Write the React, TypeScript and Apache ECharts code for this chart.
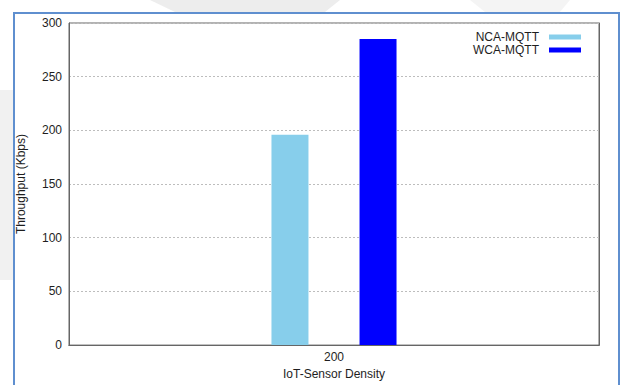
import React, { useEffect, useRef } from "react";
import * as echarts from "echarts";

// Network throughput at one IoT-sensor density
const categories = ["200"];
const seriesNames = ["NCA-MQTT", "WCA-MQTT"];
const ncaValues = [196];
const wcaValues = [285];
const yTicks = { min: 0, max: 300, interval: 50 };

const FONT = "'Liberation Sans', Arial, Helvetica, sans-serif";
const TEXT = "#1e1e1e";
const FRAME = "#666666";

export default function App() {
  const ref = useRef<HTMLDivElement>(null);

  useEffect(() => {
    if (!ref.current) return;
    const chart = echarts.init(ref.current, undefined, {
      renderer: "svg",
      width: 621,
      height: 385,
    });

    const tickStyle = { inside: true, length: 5, lineStyle: { color: "#444", width: 1 } };
    const axisLine = { show: true, lineStyle: { color: FRAME, width: 1 } };

    chart.setOption({
      animation: false,
      backgroundColor: "#ffffff",
      textStyle: { fontFamily: FONT },
      grid: {
        left: 69,
        top: 23,
        width: 530,
        height: 330,
        show: true,
        borderColor: FRAME,
        borderWidth: 1,
        backgroundColor: "#ffffff",
      },
      legend: {
        data: seriesNames,
        orient: "vertical",
        right: 35,
        top: 26,
        align: "right",
        icon: "rect",
        itemWidth: 32,
        itemHeight: 5,
        itemGap: 1,
        textStyle: {
          fontFamily: FONT,
          fontSize: 12,
          color: TEXT,
          padding: [0, 5, 0, 0],
          lineHeight: 12,
          height: 12,
        },
      },
      xAxis: [
        {
          type: "category",
          data: categories,
          position: "bottom",
          axisLine,
          axisTick: { ...tickStyle, alignWithLabel: true },
          axisLabel: { color: TEXT, fontSize: 12, fontFamily: FONT, margin: 6 },
          name: "IoT-Sensor Density",
          nameLocation: "middle",
          nameGap: 20,
          nameTextStyle: { color: TEXT, fontSize: 12, fontFamily: FONT },
        },
        {
          type: "category",
          data: categories,
          position: "top",
          axisLine,
          axisTick: { ...tickStyle, alignWithLabel: true },
          axisLabel: { show: false },
        },
      ],
      yAxis: [
        {
          type: "value",
          ...yTicks,
          position: "left",
          axisLine,
          axisTick: tickStyle,
          axisLabel: { color: TEXT, fontSize: 12, fontFamily: FONT, margin: 7 },
          splitLine: { show: true, lineStyle: { color: "#bdbdbd", type: [2, 2], width: 1 } },
          name: "Throughput (Kbps)",
          nameLocation: "middle",
          nameGap: 42,
          nameTextStyle: { color: TEXT, fontSize: 12, fontFamily: FONT },
        },
        {
          type: "value",
          ...yTicks,
          position: "right",
          axisLine,
          axisTick: tickStyle,
          axisLabel: { show: false },
          splitLine: { show: false },
        },
      ],
      series: [
        {
          name: seriesNames[0],
          type: "bar",
          data: ncaValues,
          barWidth: 37,
          barGap: "138%",
          itemStyle: { color: "#87ceeb" },
        },
        {
          name: seriesNames[1],
          type: "bar",
          data: wcaValues,
          barWidth: 37,
          barGap: "138%",
          itemStyle: { color: "#0000ff" },
        },
      ],
      graphic: [
        // faint page shading outside the figure frame
        {
          type: "polygon",
          z: -10,
          silent: true,
          shape: { points: [[150, 0], [340, 0], [325, 12], [175, 12]] },
          style: { fill: "#e9e9e9", opacity: 0.8 },
        },
        {
          type: "polygon",
          z: -10,
          silent: true,
          shape: { points: [[470, 0], [570, 0], [560, 12], [485, 12]] },
          style: { fill: "#f1f1f1", opacity: 0.8 },
        },
        {
          type: "rect",
          z: -10,
          silent: true,
          shape: { x: 0, y: 90, width: 13, height: 190 },
          style: { fill: "#ededed", opacity: 0.8 },
        },
        // figure frame
        {
          type: "rect",
          z: 100,
          silent: true,
          shape: { x: 14, y: 13, width: 605, height: 400 },
          style: { fill: "none", stroke: "#5f8fcf", lineWidth: 2 },
        },
      ],
    });

    return () => chart.dispose();
  }, []);

  return (
    <div
      ref={ref}
      style={{ position: "fixed", left: 0, top: 0, width: 621, height: 385 }}
    />
  );
}
